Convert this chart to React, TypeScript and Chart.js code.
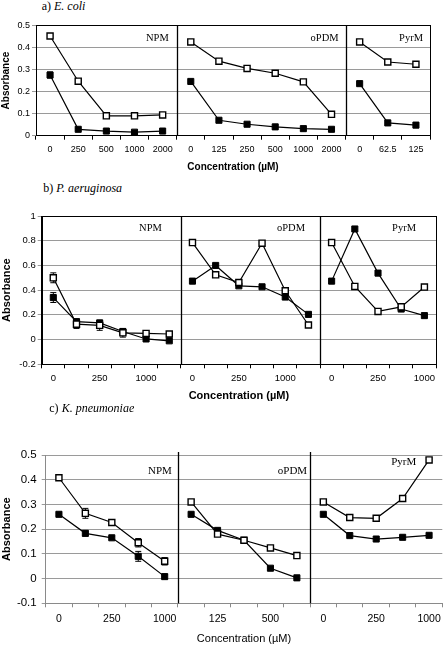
import React, { useEffect, useRef } from 'react';
import { Chart, registerables } from 'chart.js';
Chart.register(...registerables);

const SANS = '"Liberation Sans", Arial, sans-serif';
const SERIF = '"Liberation Serif", "Times New Roman", serif';

const AGENTS = ['NPM', 'oPDM', 'PyrM'];
const X_TITLE = 'Concentration (\u00b5M)';
const Y_TITLE = 'Absorbance';

// ---------- a) E. coli ----------
const aNpmConc = ['0', '250', '500', '1000', '2000'];
const aOpdmConc = ['0', '125', '250', '500', '1000', '2000'];
const aPyrmConc = ['0', '62.5', '125'];
const aNpmOpen = [0.452, 0.247, 0.09, 0.09, 0.094];
const aNpmFilled = [0.275, 0.029, 0.021, 0.016, 0.021];
const aNpmOpenErr = [0.008, 0.006, 0.005, 0.005, 0.005];
const aNpmFilledErr = [0.014, 0.005, 0.004, 0.004, 0.004];
const aOpdmOpen = [0.425, 0.338, 0.305, 0.283, 0.244, 0.097];
const aOpdmFilled = [0.246, 0.07, 0.052, 0.04, 0.032, 0.029];
const aPyrmOpen = [0.425, 0.334, 0.324];
const aPyrmFilled = [0.236, 0.058, 0.048];

// ---------- b) P. aeruginosa ----------
const bNpmConc = ['0', '125', '250', '500', '1000', '2000'];
const bOpdmConc = ['0', '125', '250', '500', '1000', '2000'];
const bPyrmConc = ['0', '125', '250', '500', '1000'];
const bNpmOpen = [0.5, 0.125, 0.115, 0.055, 0.05, 0.045];
const bNpmFilled = [0.34, 0.145, 0.135, 0.065, 0.005, -0.01];
const bNpmOpenErr = [0.04, 0.035, 0.04, 0.035, 0.008, 0.008];
const bNpmFilledErr = [0.04, 0.02, 0.015, 0.025, 0.008, 0.008];
const bOpdmOpen = [0.785, 0.524, 0.462, 0.78, 0.395, 0.118];
const bOpdmFilled = [0.473, 0.6, 0.435, 0.427, 0.344, 0.204];
const bPyrmOpen = [0.785, 0.43, 0.228, 0.265, 0.425];
const bPyrmFilled = [0.473, 0.895, 0.538, 0.247, 0.194];

// ---------- c) K. pneumoniae ----------
const cNpmConc = ['0', '125', '250', '500', '1000'];
const cOpdmConc = ['0', '125', '250', '500', '1000'];
const cPyrmConc = ['0', '125', '250', '500', '1000'];
const cNpmOpen = [0.408, 0.264, 0.227, 0.145, 0.07];
const cNpmFilled = [0.26, 0.183, 0.165, 0.09, 0.008];
const cNpmOpenErr = [0.008, 0.02, 0.006, 0.017, 0.015];
const cNpmFilledErr = [0.005, 0.01, 0.005, 0.02, 0.008];
const cOpdmOpen = [0.31, 0.18, 0.155, 0.124, 0.093];
const cOpdmFilled = [0.26, 0.195, 0.155, 0.042, 0.003];
const cPyrmOpen = [0.31, 0.247, 0.244, 0.324, 0.48];
const cPyrmFilled = [0.26, 0.174, 0.16, 0.167, 0.175];

type Group = { conc: string[]; open: number[]; filled: number[]; openErr?: number[]; filledErr?: number[] };

const panelA: Group[] = [
  { conc: aNpmConc, open: aNpmOpen, filled: aNpmFilled, openErr: aNpmOpenErr, filledErr: aNpmFilledErr },
  { conc: aOpdmConc, open: aOpdmOpen, filled: aOpdmFilled },
  { conc: aPyrmConc, open: aPyrmOpen, filled: aPyrmFilled },
];
const panelB: Group[] = [
  { conc: bNpmConc, open: bNpmOpen, filled: bNpmFilled, openErr: bNpmOpenErr, filledErr: bNpmFilledErr },
  { conc: bOpdmConc, open: bOpdmOpen, filled: bOpdmFilled },
  { conc: bPyrmConc, open: bPyrmOpen, filled: bPyrmFilled },
];
const panelC: Group[] = [
  { conc: cNpmConc, open: cNpmOpen, filled: cNpmFilled, openErr: cNpmOpenErr, filledErr: cNpmFilledErr },
  { conc: cOpdmConc, open: cOpdmOpen, filled: cOpdmFilled },
  { conc: cPyrmConc, open: cPyrmOpen, filled: cPyrmFilled },
];

type Style = {
  top: number; height: number; padTop: number; padRight: number; plotLeft: number; xAxisH: number;
  yMin: number; yMax: number; yStep: number; every: number;
  yTickSize: number; yTickPad: number; xTickSize: number; xTickPad: number;
  xTitleSize: number; xTitleBold: boolean; xTitlePadBottom: number; yTitleSize: number;
  agentSize: number; agentPad: number[]; agentDy: number[];
  frame: boolean; axisColor: string; gridColor: string; dividerTopExtra: number;
};

const styleA: Style = {
  top: 18, height: 162, padTop: 7, padRight: 18, plotLeft: 36, xAxisH: 44.3,
  yMin: 0, yMax: 0.5, yStep: 0.1, every: 1,
  yTickSize: 9, yTickPad: 2, xTickSize: 9, xTickPad: 4,
  xTitleSize: 10, xTitleBold: true, xTitlePadBottom: 7, yTitleSize: 10,
  agentSize: 10.5, agentPad: [8, 7, 7], agentDy: [12.7, 12.7, 12.7],
  frame: true, axisColor: '#000', gridColor: '#9a9a9a', dividerTopExtra: 0,
};
const styleB: Style = {
  top: 206, height: 197, padTop: 10, padRight: 12, plotLeft: 41.7, xAxisH: 38.7,
  yMin: -0.2, yMax: 1, yStep: 0.2, every: 2,
  yTickSize: 9.5, yTickPad: 2, xTickSize: 9.5, xTickPad: 4,
  xTitleSize: 11, xTitleBold: true, xTitlePadBottom: 0, yTitleSize: 11,
  agentSize: 10.5, agentPad: [19, 15, 20], agentDy: [12.3, 12.3, 12.3],
  frame: true, axisColor: '#000', gridColor: '#9a9a9a', dividerTopExtra: 0,
};
const styleC: Style = {
  top: 440, height: 206, padTop: 15, padRight: 1, plotLeft: 45.7, xAxisH: 42.7,
  yMin: -0.1, yMax: 0.5, yStep: 0.1, every: 2,
  yTickSize: 11.5, yTickPad: 5, xTickSize: 10.5, xTickPad: 6,
  xTitleSize: 11, xTitleBold: false, xTitlePadBottom: 0.5, yTitleSize: 11,
  agentSize: 11, agentPad: [6, 3, 26], agentDy: [15.7, 15.7, 7.3],
  frame: false, axisColor: '#8a8a8a', gridColor: '#9a9a9a', dividerTopExtra: 3,
};

function PanelChart({ groups, st }: { groups: Group[]; st: Style }) {
  const ref = useRef<HTMLCanvasElement>(null);
  useEffect(() => {
    const labels = groups.flatMap((g) => g.conc);
    const total = labels.length;
    const starts: number[] = [];
    const datasets: any[] = [];
    const errs: (Array<number | null> | null)[] = [];
    let s = 0;
    const pad = (arr: number[], start: number) => {
      const out: Array<number | null> = new Array(total).fill(null);
      arr.forEach((v, i) => { out[start + i] = v; });
      return out;
    };
    groups.forEach((g) => {
      starts.push(s);
      datasets.push({
        data: pad(g.open, s), borderColor: '#000', borderWidth: 1.2,
        pointStyle: 'rect', pointRadius: 4.3, pointBorderWidth: 1.4,
        pointBackgroundColor: '#fff', pointBorderColor: '#000', spanGaps: false, tension: 0,
      });
      errs.push(g.openErr ? pad(g.openErr, s) : null);
      datasets.push({
        data: pad(g.filled, s), borderColor: '#000', borderWidth: 1.2,
        pointStyle: 'rect', pointRadius: 4.3, pointBorderWidth: 1,
        pointBackgroundColor: '#000', pointBorderColor: '#000', spanGaps: false, tension: 0,
      });
      errs.push(g.filledErr ? pad(g.filledErr, s) : null);
      s += g.conc.length;
    });

    const boundary = (chart: any, idx: number) => {
      const xs = chart.scales.x;
      return (xs.getPixelForValue(idx - 1) + xs.getPixelForValue(idx)) / 2;
    };

    const decor = {
      id: 'decor',
      beforeDatasetsDraw(chart: any) {
        const { ctx, chartArea } = chart;
        const xs = chart.scales.x;
        const ys = chart.scales.y;
        ctx.save();
        // dividers between agent sub-panels
        ctx.strokeStyle = '#000';
        ctx.lineWidth = 1.3;
        starts.slice(1).forEach((st0) => {
          const x = Math.round(boundary(chart, st0)) + 0.5;
          ctx.beginPath();
          ctx.moveTo(x, chartArea.top - st.dividerTopExtra);
          ctx.lineTo(x, chartArea.bottom);
          ctx.stroke();
        });
        // error bars
        ctx.lineWidth = 1;
        errs.forEach((err, di) => {
          if (!err) return;
          const data = chart.data.datasets[di].data;
          err.forEach((e, i) => {
            const v = data[i];
            if (e == null || v == null) return;
            const px = xs.getPixelForValue(i);
            const t = ys.getPixelForValue(v + e);
            const b = ys.getPixelForValue(v - e);
            ctx.beginPath();
            ctx.moveTo(px, t); ctx.lineTo(px, b);
            ctx.moveTo(px - 3, t); ctx.lineTo(px + 3, t);
            ctx.moveTo(px - 3, b); ctx.lineTo(px + 3, b);
            ctx.stroke();
          });
        });
        ctx.restore();
      },
      afterDraw(chart: any) {
        const { ctx, chartArea } = chart;
        ctx.save();
        if (st.frame) {
          ctx.strokeStyle = '#000';
          ctx.lineWidth = 1;
          ctx.strokeRect(Math.round(chartArea.left) + 0.5, Math.round(chartArea.top) + 0.5,
            Math.round(chartArea.right - chartArea.left), Math.round(chartArea.bottom - chartArea.top));
        }
        ctx.fillStyle = '#000';
        ctx.font = `${st.agentSize}px ${SERIF}`;
        ctx.textAlign = 'right';
        ctx.textBaseline = 'middle';
        starts.forEach((st0, gi) => {
          const right = gi + 1 < starts.length ? boundary(chart, starts[gi + 1]) : chartArea.right;
          ctx.fillText(AGENTS[gi], right - st.agentPad[gi], chartArea.top + st.agentDy[gi]);
        });
        ctx.restore();
      },
    };

    const chart = new Chart(ref.current as HTMLCanvasElement, {
      type: 'line',
      data: { labels, datasets },
      plugins: [decor],
      options: {
        responsive: false,
        animation: false,
        devicePixelRatio: 1,
        layout: { padding: { top: st.padTop, right: st.padRight, left: 0, bottom: 0 } },
        plugins: { legend: { display: false }, tooltip: { enabled: false } },
        scales: {
          x: {
            type: 'category',
            offset: true,
            grid: {
              display: true, offset: true, drawOnChartArea: false, drawTicks: true,
              tickLength: 4, color: st.axisColor, tickColor: st.axisColor,
            },
            border: { display: true, color: st.axisColor, width: 1 },
            ticks: {
              autoSkip: false, maxRotation: 0, minRotation: 0, padding: st.xTickPad, color: '#000',
              font: { family: SANS, size: st.xTickSize },
              callback: (_v: any, i: number) => (i % st.every === 0 ? labels[i] : ''),
            },
            title: {
              display: true, text: X_TITLE, color: '#000',
              font: { family: SANS, size: st.xTitleSize, weight: st.xTitleBold ? 'bold' : 'normal' },
              padding: { top: 0, bottom: st.xTitlePadBottom },
            },
            afterFit: (sc: any) => { sc.height = st.xAxisH; },
          },
          y: {
            min: st.yMin, max: st.yMax,
            grid: { color: st.gridColor, tickColor: st.gridColor, tickLength: 4, drawTicks: true, lineWidth: 1 },
            border: { display: true, color: st.axisColor, width: 1 },
            ticks: {
              stepSize: st.yStep, padding: st.yTickPad, color: '#000',
              font: { family: SANS, size: st.yTickSize },
              callback: (v: any) => String(Number(Number(v).toFixed(1))),
            },
            title: {
              display: true, text: Y_TITLE, color: '#000',
              font: { family: SANS, size: st.yTitleSize, weight: 'bold' },
              padding: { top: 0, bottom: 0 },
            },
            afterFit: (sc: any) => { sc.width = st.plotLeft; },
          },
        },
      } as any,
    });
    return () => chart.destroy();
  }, []);
  return (
    <div style={{ position: 'absolute', left: 0, top: st.top, width: 448, height: st.height }}>
      <canvas ref={ref} width={448} height={st.height} style={{ display: 'block' }} />
    </div>
  );
}

function Heading({ top, left, prefix, species }: { top: number; left: number; prefix: string; species: string }) {
  return (
    <div style={{ position: 'absolute', top, left, fontFamily: SERIF, fontSize: 12, lineHeight: '15px', whiteSpace: 'nowrap', color: '#000' }}>
      {prefix} <i>{species}</i>
    </div>
  );
}

export default function App() {
  return (
    <div style={{ position: 'absolute', left: 0, top: 0, width: 448, height: 646, background: '#fff', overflow: 'hidden' }}>
      <Heading top={-1} left={41.7} prefix="a)" species="E. coli" />
      <PanelChart groups={panelA} st={styleA} />
      <Heading top={180.5} left={43.3} prefix="b)" species="P. aeruginosa" />
      <PanelChart groups={panelB} st={styleB} />
      <Heading top={400.5} left={49.3} prefix="c)" species="K. pneumoniae" />
      <PanelChart groups={panelC} st={styleC} />
    </div>
  );
}
